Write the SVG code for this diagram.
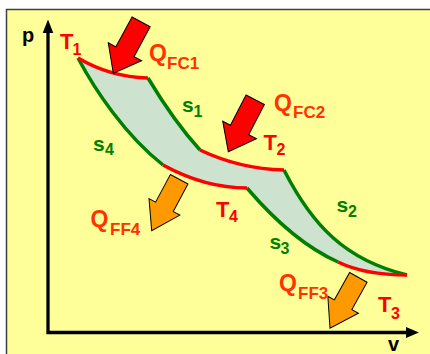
<svg xmlns="http://www.w3.org/2000/svg" width="430" height="354" viewBox="0 0 430 354">
<defs>
<style>
.lbl{font-family:"Liberation Sans",Arial,sans-serif;font-weight:bold}
.ax{fill:#000;font-size:20px}
.q{fill:#FF3300;font-size:23px}
.qs{font-size:17px}
.t{fill:#FF0000;font-size:22px}
.s{fill:#007F00;font-size:21px}
.ts{font-size:16px}
.iso{fill:none;stroke:#FF0000;stroke-width:3.5;stroke-linecap:butt}
.adi{fill:none;stroke:#007F00;stroke-width:3.5;stroke-linecap:butt}
.axis{fill:none;stroke:#000;stroke-width:3.3}
.in{fill:#FF0000;stroke:#000;stroke-width:1;stroke-linejoin:miter}
.out{fill:#FF9900;stroke:#000;stroke-width:1;stroke-linejoin:miter}
</style>
<polygon id="redArrow" points="-10.3,-58.5 10.3,-58.5 10.3,-24.5 19,-24.5 0,0 -19,-24.5 -10.3,-24.5"/>
<polygon id="orangeArrow" points="-10,-58.3 10,-58.3 10,-27 17.5,-27 0,0 -17.5,-27 -10,-27"/>
</defs>
<rect x="0" y="0" width="430" height="354" fill="#FFFFFF"/>
<rect id="panel" x="6.5" y="9.5" width="430" height="350" fill="#FFFF99" stroke="#404040" stroke-width="1.5"/>

<g id="axes">
<polyline class="axis" points="48,31 48,332.5 408,332.5"/>
<polygon points="48,19.5 42.7,33 53.3,33" fill="#000"/>
<polygon points="419,332.5 406,327 406,338" fill="#000"/>
<text class="lbl ax" x="22" y="42">p</text>
<text class="lbl ax" x="388" y="351">v</text>
</g>

<g id="cycle">
<path fill="#CDE3D0" stroke="none" d="M78,58 Q110,77 148,78 C160,98 180,128 200,150 Q240,169 284,170 C312,225 345,260 407,275 Q365,275 338,262 C300,245 270,215 247,188 Q205,188 163,165 C125,135 95,90 78,58 Z"/>
</g>

<g id="connectors">
<path id="s1" class="adi" d="M148,78 C160,98 180,128 200,150"/>
<path id="s2" class="adi" d="M284,170 C312,225 345,260 407,275"/>
<path id="s3" class="adi" d="M247,188 C270,215 300,245 338,262"/>
<path id="s4" class="adi" d="M78,58 C95,90 125,135 163,165"/>
<path id="T1" class="iso" d="M78,58 Q110,77 148,78"/>
<path id="T2" class="iso" d="M200,150 Q240,169 284,170"/>
<path id="T3" class="iso" d="M338,262 Q365,275 407,275"/>
<path id="T4" class="iso" d="M163,165 Q205,188 247,188"/>
</g>

<g id="QFC1">
<use href="#redArrow" class="in" transform="translate(113.3,73.3) rotate(28.4)"/>
<text class="lbl q" x="149" y="60.5">Q<tspan class="qs" x="167" y="68.5">FC1</tspan></text>
</g>
<g id="QFC2">
<use href="#redArrow" class="in" transform="translate(228.3,151.7) rotate(27.4)"/>
<text class="lbl q" x="274" y="110.5">Q<tspan class="qs" x="293" y="118">FC2</tspan></text>
</g>
<g id="QFF4">
<use href="#orangeArrow" class="out" transform="translate(151.7,230.7) rotate(28.1)"/>
<text class="lbl q" x="90.5" y="227">Q<tspan class="qs" x="110" y="235">FF4</tspan></text>
</g>
<g id="QFF3">
<use href="#orangeArrow" class="out" transform="translate(330,328.3) rotate(29.1)"/>
<text class="lbl q" x="279" y="291">Q<tspan class="qs" x="298" y="298.5">FF3</tspan></text>
</g>

<g id="labelT1"><text class="lbl t" x="60" y="48.5">T<tspan class="ts" x="72.5" y="55">1</tspan></text></g>
<g id="labelT2"><text class="lbl t" x="263.5" y="150">T<tspan class="ts" x="276.5" y="155">2</tspan></text></g>
<g id="labelT3"><text class="lbl t" x="378" y="312">T<tspan class="ts" x="391" y="318.5">3</tspan></text></g>
<g id="labelT4"><text class="lbl t" x="216" y="216.5">T<tspan class="ts" x="229" y="221.5">4</tspan></text></g>

<g id="labelS1"><text class="lbl s" x="182" y="111.5">s<tspan class="ts" x="193.5" y="116.5">1</tspan></text></g>
<g id="labelS2"><text class="lbl s" x="336.5" y="212">s<tspan class="ts" x="348" y="217">2</tspan></text></g>
<g id="labelS3"><text class="lbl s" x="269.5" y="248.5">s<tspan class="ts" x="280.5" y="253.5">3</tspan></text></g>
<g id="labelS4"><text class="lbl s" x="93" y="151">s<tspan class="ts" x="105" y="155">4</tspan></text></g>
</svg>
